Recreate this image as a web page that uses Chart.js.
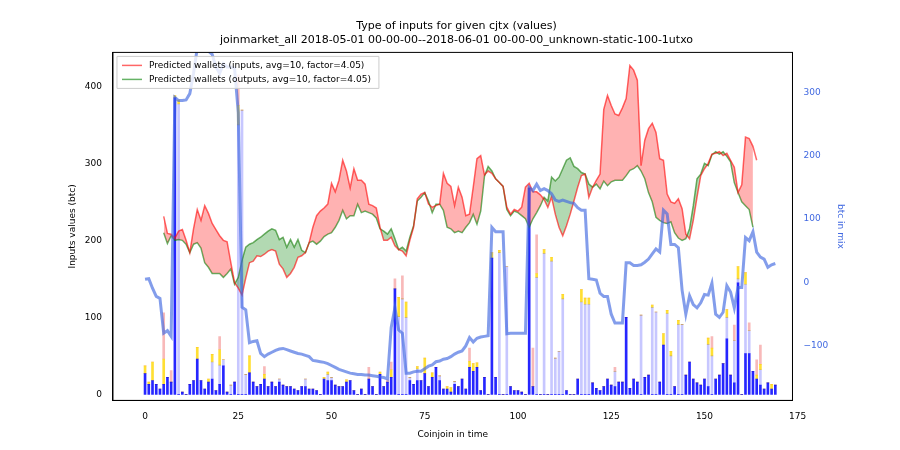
<!DOCTYPE html>
<html>
<head>
<meta charset="utf-8">
<script src="https://cdn.jsdelivr.net/npm/chart.js@4"></script>
<style>
  body { margin: 0; background: #fff; }
  #wrap { width: 900px; height: 450px; }
</style>
</head>
<body>
<div id="wrap"><canvas id="mycanvas"></canvas></div>
<script>
// values (index = coinjoin number)
const predInputs = [null,null,null,null,null,231,209,208,203,212,214,200,184,215,240,226,245,235,222,214,206,200,198,171,145,138,129,151,171,173,180,179,182,186,188,186,169,163,152,157,165,178,180,184,197,217,232,238,242,247,274,263,278,304,290,268,293,278,278,273,247,245,242,217,200,200,204,193,188,186,180,200,217,254,260,262,247,243,245,247,287,274,270,245,269,256,232,234,269,306,310,285,290,287,280,275,270,243,234,240,238,243,269,274,263,263,259,253,243,256,234,217,206,219,234,251,269,284,286,256,269,278,286,370,388,375,364,362,372,384,427,421,408,297,330,345,352,340,306,304,260,250,248,254,241,208,202,226,256,284,293,300,312,313,315,310,313,304,295,262,272,334,332,322,304];
const predOutputs = [null,null,null,null,null,210,196,206,200,201,200,195,184,195,197,190,171,165,157,157,157,152,157,163,143,152,174,191,195,197,201,204,208,212,215,213,201,204,191,201,191,201,187,184,197,199,195,199,205,208,210,217,226,239,228,232,232,247,236,238,236,234,229,215,212,208,215,202,188,191,186,204,219,251,256,262,251,236,247,247,239,217,215,210,212,210,217,223,234,221,238,283,296,290,280,275,270,240,232,238,236,232,228,217,228,236,245,256,251,282,277,282,293,304,307,296,293,288,286,273,269,273,267,277,271,276,278,278,278,284,291,293,297,290,280,262,250,230,226,223,222,224,210,203,200,202,215,245,280,286,300,297,311,315,312,315,309,302,275,262,250,245,240,217];
const btcInMix = [5,6,-9,-22,-25,-80,-76,-85,292,287,287,288,298,330,370,375,372,365,360,340,330,345,340,340,338,268,-39,-43,-95,-93,-92,-112,-117,-113,-110,-107,-105,-104,-106,-108,-110,-112,-113,-115,-117,-123,-124,-125,-126,-128,-131,-134,-137,-139,-141,-143,-144,-145,-145,-146,-146,-147,-148,-149,-150,-152,-71,-40,-75,-80,-143,-143,-141,-140,-140,-136,-132,-130,-125,-124,-121,-120,-117,-113,-110,-108,-100,-87,-94,-88,-86,-85,-84,87,80,80,80,-81,-80,-80,-80,-80,-80,150,145,155,145,148,145,140,130,128,130,128,126,125,118,114,114,6,5,4,-17,-22,-22,-50,-64,-64,-64,31,31,27,27,28,32,37,45,53,48,114,108,60,60,55,-12,-50,-21,-35,-40,-32,-19,-20,-1,-50,-55,-47,-5,-15,-40,-8,-8,71,66,80,48,40,37,24,28,30];
const mixDark = [27,13,18,13,7,13,22,16,385,0,3,0,13,18,46,18,7,16,20,5,13,37,3,0,16,0,0,0,28,16,10,13,20,10,16,10,16,12,10,10,7,5,10,10,7,7,5,0,20,18,18,12,10,10,16,18,5,0,7,0,20,10,0,26,10,16,22,137,0,0,0,18,13,18,18,27,10,22,35,18,7,7,3,13,10,20,7,35,30,35,5,22,0,177,22,0,0,0,10,5,5,3,0,268,10,0,0,0,0,0,0,0,0,5,0,0,20,0,0,0,15,8,5,10,20,12,10,16,16,100,8,20,16,0,22,25,0,0,16,64,0,0,10,0,0,25,42,20,15,12,20,10,0,20,25,40,72,25,15,145,0,53,53,30,20,12,7,15,7,12];
const mixLight = {9:377,18:22,20:25,21:8,23:12,25:350,26:369,27:26,36:4,43:10,49:8,50:4,68:101,69:124,70:100,71:4,73:15,79:6,83:4,95:184,97:166,105:152,107:183,109:173,110:47,111:56,112:124,117:120,118:117,119:117,126:20,133:103,136:113,137:107,140:105,141:50,143:91,144:91,151:55,152:50,156:28,158:55,159:5,161:90,162:30,165:20};
const mixYellow = {0:10,1:3,2:24,5:33,8:3,9:5,14:15,17:4,18:10,20:20,25:25,28:22,32:6,48:2,49:3,54:3,63:3,66:10,68:25,70:20,73:3,75:20,77:6,81:3,82:6,87:8,88:10,89:6,93:7,95:3,105:5,107:5,109:5,112:6,117:16,118:8,119:8,136:3,139:15,140:4,141:6,143:5,151:8,152:10,156:10,159:16,161:15,164:5,165:7,168:6};
const mixPink = {5:60,7:15,20:17,25:40,32:10,60:15,65:3,66:10,67:13,69:30,87:17,104:50,105:50,126:5,152:15,158:20,162:10,164:20,165:25};

const xTicks = [0,25,50,75,100,125,150,175];

function pts(arr) {
  var out = [];
  for (var i = 0; i < arr.length; i++) out.push({x: i, y: arr[i]});
  return out;
}
function sparse(obj) {
  var out = [];
  for (var i = 0; i < btcInMix.length; i++) out.push({x: i, y: obj[i] || 0});
  return out;
}
function bar(label, data, color) {
  return { type: 'bar', label: label, data: data, backgroundColor: color, stack: 'mix',
           barThickness: 2, yAxisID: 'y', order: 3 };
}

// frame around the plot + legend box in the upper left corner
const boxLegend = {
  id: 'boxLegend',
  afterDraw: function (chart) {
    const c = chart.ctx, a = chart.chartArea;
    c.save();
    c.strokeStyle = '#000'; c.lineWidth = 1;
    c.strokeRect(a.left, a.top, a.right - a.left, a.bottom - a.top);
    const items = chart.data.datasets.slice(0, 2);
    c.font = '9px "DejaVu Sans"';
    var w = 0;
    items.forEach(function (d) { w = Math.max(w, c.measureText(d.label).width); });
    const x0 = a.left + 4, y0 = a.top + 4;
    c.fillStyle = 'rgba(255,255,255,0.8)';
    c.strokeStyle = '#ccc';
    c.beginPath(); c.rect(x0, y0, w + 40, 32); c.fill(); c.stroke();
    items.forEach(function (d, i) {
      const y = y0 + 9 + i * 14;
      c.strokeStyle = d.borderColor; c.lineWidth = 1.5;
      c.beginPath(); c.moveTo(x0 + 5, y); c.lineTo(x0 + 25, y); c.stroke();
      c.fillStyle = '#000'; c.textBaseline = 'middle';
      c.fillText(d.label, x0 + 32, y);
    });
    c.restore();
  }
};

const ctx = document.getElementById('mycanvas');
window.myChart = new Chart(ctx, {
  data: {
    datasets: [
      { type: 'line', label: 'Predicted wallets (inputs, avg=10, factor=4.05)', data: pts(predInputs),
        borderColor: 'rgba(255,0,0,0.6)', backgroundColor: 'rgba(255,0,0,0.6)', borderWidth: 1.5, pointRadius: 0,
        stack: 'in', yAxisID: 'y', order: 1,
        fill: { target: 1, above: 'rgba(255,0,0,0.3)', below: 'rgba(0,128,0,0.3)' } },
      { type: 'line', label: 'Predicted wallets (outputs, avg=10, factor=4.05)', data: pts(predOutputs),
        borderColor: 'rgba(0,128,0,0.6)', backgroundColor: 'rgba(0,128,0,0.6)', borderWidth: 1.5, pointRadius: 0,
        stack: 'out', yAxisID: 'y', order: 1, fill: false },
      { type: 'line', label: 'btc in mix', data: pts(btcInMix),
        borderColor: 'rgba(65,105,225,0.65)', borderWidth: 3, pointRadius: 0,
        yAxisID: 'y2', order: 0, fill: false },
      bar('dark', pts(mixDark), 'rgba(0,0,255,0.85)'),
      bar('light', sparse(mixLight), 'rgba(0,0,255,0.22)'),
      bar('yellow', sparse(mixYellow), 'rgba(255,215,0,0.8)'),
      bar('pink', sparse(mixPink), 'rgba(240,100,100,0.45)')
    ]
  },
  plugins: [boxLegend],
  options: {
    animation: false,
    responsive: true,
    maintainAspectRatio: false,
    layout: { padding: { left: 63, right: 50, top: 14, bottom: 6 } },
    plugins: {
      title: { display: true, text: ['Type of inputs for given cjtx (values)',
               'joinmarket_all 2018-05-01 00-00-00--2018-06-01 00-00-00_unknown-static-100-1utxo'],
               color: '#000', font: { family: 'DejaVu Sans', size: 11, weight: 'normal' }, padding: { top: 6, bottom: 6 } },
      legend: { display: false },
      tooltip: { enabled: false }
    },
    scales: {
      x: {
        type: 'linear', min: -8.6, max: 173.6, offset: false,
        afterBuildTicks: function (axis) { axis.ticks = xTicks.map(function (v) { return {value: v}; }); },
        grid: { display: false, drawTicks: true },
        border: { color: '#000' },
        ticks: { color: '#000', font: { family: 'DejaVu Sans', size: 9 } },
        title: { display: true, text: 'Coinjoin in time', color: '#000', font: { family: 'DejaVu Sans', size: 9 } }
      },
      y: {
        stacked: true, min: -7.8, max: 444,
        afterBuildTicks: function (axis) { axis.ticks = [0,100,200,300,400].map(function (v) { return {value: v}; }); },
        grid: { display: false },
        border: { color: '#000' },
        ticks: { color: '#000', font: { family: 'DejaVu Sans', size: 9 } },
        title: { display: true, text: 'Inputs values (btc)', color: '#000', font: { family: 'DejaVu Sans', size: 9 } }
      },
      y2: {
        position: 'right', min: -186, max: 363,
        afterBuildTicks: function (axis) { axis.ticks = [-100,0,100,200,300].map(function (v) { return {value: v}; }); },
        grid: { display: false },
        border: { color: '#000' },
        ticks: { color: '#4169e1', font: { family: 'DejaVu Sans', size: 9 },
                 callback: function (v) { return v < 0 ? '\u2212' + (-v) : v; } },
        title: { display: true, text: 'btc in mix', color: '#4169e1', font: { family: 'DejaVu Sans', size: 9 } }
      }
    }
  }
});
</script>
</body>
</html>
